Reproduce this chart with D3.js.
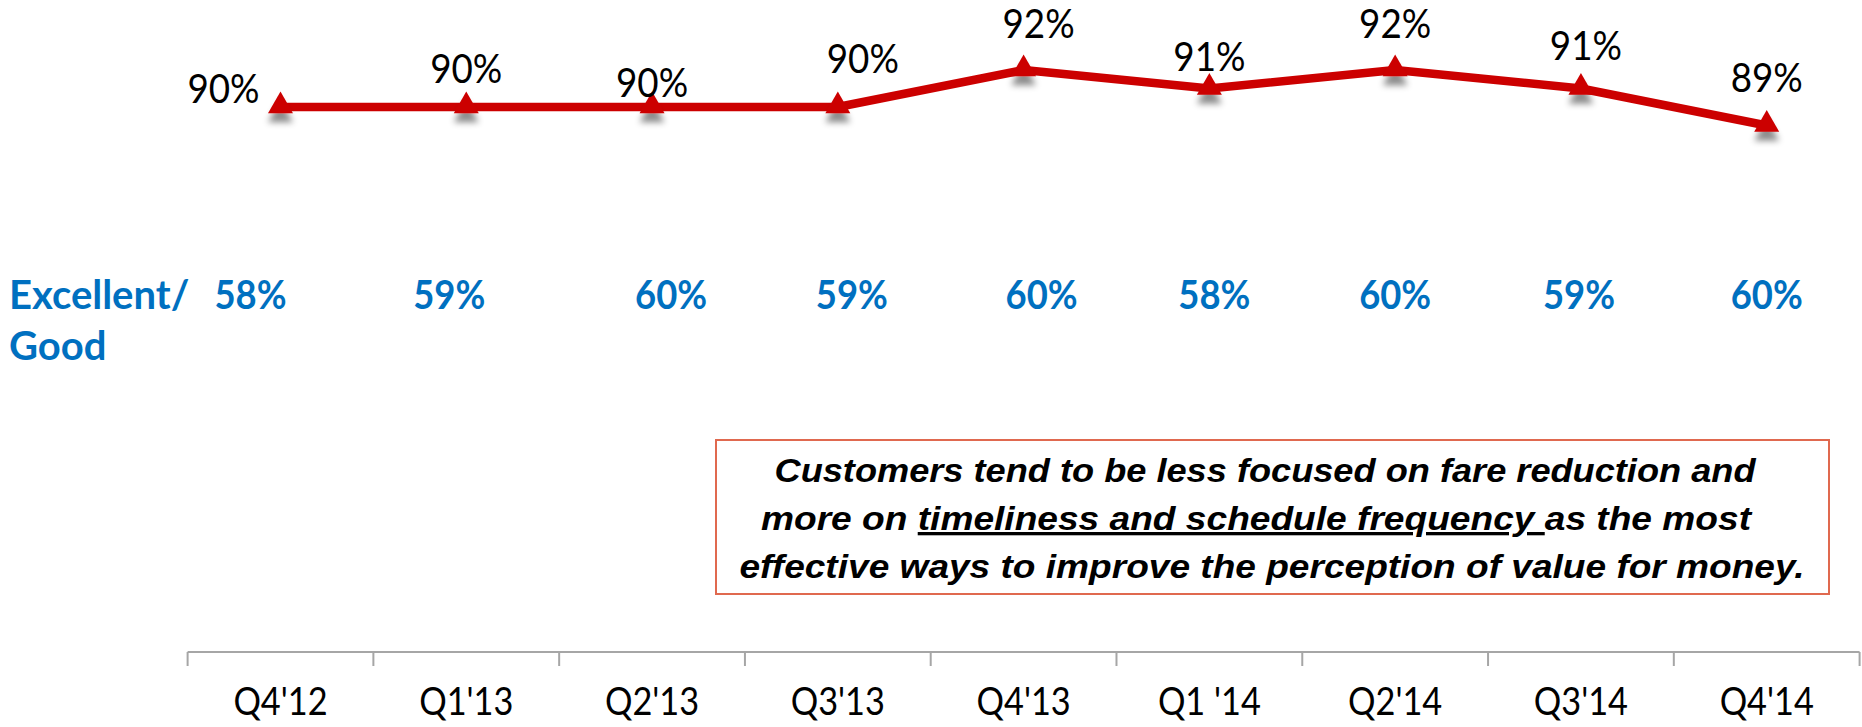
<!DOCTYPE html>
<html lang="en">
<head>
  <meta charset="UTF-8">
  <title>Value for money trend</title>
  <script src="https://d3js.org/d3.v7.min.js"></script>
  <style>
    body {
      margin: 0;
      background-color: #ffffff;
      overflow: hidden;
    }
    svg {
      display: block;
    }
    .lbl {
      font-family: Lato, 'Open Sans', Arial, sans-serif;
    }
  </style>
</head>
<body>
  <svg id="chart" width="1862" height="727"></svg>

  <script>
    // Data
    const quarters = ["Q4'12", "Q1'13", "Q2'13", "Q3'13", "Q4'13", "Q1 '14", "Q2'14", "Q3'14", "Q4'14"];
    const topScores = [90, 90, 90, 90, 92, 91, 92, 91, 89];
    const excellentGood = [58, 59, 60, 59, 60, 58, 60, 59, 60];

    // label nudges (layout only), in px from the point
    const topLabelNudge = [[-57, -18], [0, -38], [0, -24], [25, -48], [15, -46], [0, -32], [0, -46], [5, -43], [0, -48]];
    const blueNudge = [-30, -17, 19, 14, 18, 5, 0, -2, 0];

    const svg = d3.select("#chart");

    const x = d3.scaleBand()
      .domain(quarters)
      .range([187.6, 1859.6])
      .padding(0);

    const y = d3.scaleLinear()
      .domain([89, 92])
      .range([125.5, 70]);

    const cx = d => x(d) + x.bandwidth() / 2;
    // narrow the glyphs a bit so Lato looks closer to Calibri
    const place = (px, py, sx) => `translate(${px},${py}) scale(${sx},1)`;

    // shadow under markers
    const defs = svg.append("defs");
    const f = defs.append("filter")
      .attr("id", "shadow")
      .attr("x", "-50%").attr("y", "-50%")
      .attr("width", "200%").attr("height", "250%");
    f.append("feDropShadow")
      .attr("dx", 0).attr("dy", 9)
      .attr("stdDeviation", 3)
      .attr("flood-color", "#000")
      .attr("flood-opacity", 0.45);

    // axis
    const axisY = 652;
    const axis = svg.append("g");
    axis.append("line")
      .attr("x1", x.range()[0]).attr("x2", x.range()[1])
      .attr("y1", axisY).attr("y2", axisY)
      .attr("stroke", "#a6a6a6")
      .attr("stroke-width", 2);

    const bounds = quarters.map(q => x(q)).concat([x.range()[1]]);
    axis.selectAll(".tick")
      .data(bounds)
      .enter().append("line")
      .attr("x1", d => d).attr("x2", d => d)
      .attr("y1", axisY).attr("y2", axisY + 14)
      .attr("stroke", "#a6a6a6")
      .attr("stroke-width", 2);

    axis.selectAll(".qlabel")
      .data(quarters)
      .enter().append("text")
      .attr("class", "lbl")
      .attr("transform", d => place(cx(d), 715, 0.88))
      .attr("text-anchor", "middle")
      .style("font-size", "39px")
      .style("fill", "#000")
      .text(d => d);

    // line
    const pts = quarters.map((q, i) => ({ q: q, v: topScores[i], i: i }));

    svg.append("path")
      .datum(pts)
      .attr("fill", "none")
      .attr("stroke", "#cc0000")
      .attr("stroke-width", 8.5)
      .attr("stroke-linejoin", "round")
      .attr("d", d3.line().x(d => cx(d.q)).y(d => y(d.v)));

    svg.append("g")
      .selectAll("path")
      .data(pts)
      .enter().append("path")
      .attr("d", d3.symbol().type(d3.symbolTriangle).size(270))
      .attr("transform", d => `translate(${cx(d.q)},${y(d.v) - 1})`)
      .attr("fill", "#cc0000")
      .attr("filter", "url(#shadow)");

    svg.append("g")
      .selectAll("text")
      .data(pts)
      .enter().append("text")
      .attr("class", "lbl")
      .attr("transform", d => place(cx(d.q) + topLabelNudge[d.i][0], y(d.v) + topLabelNudge[d.i][1], 0.92))
      .attr("dy", "0.36em")
      .attr("text-anchor", "middle")
      .style("font-size", "40px")
      .style("fill", "#000")
      .text(d => d.v + "%");

    // Excellent / Good row
    const blue = "#0070c0";
    const side = svg.append("text")
      .attr("class", "lbl")
      .attr("transform", place(9, 0, 1))
      .style("font-size", "40px")
      .style("font-weight", "bold")
      .style("fill", blue);
    side.append("tspan").attr("x", 0).attr("y", 309).text("Excellent/");
    side.append("tspan").attr("x", 0).attr("y", 360).text("Good");

    svg.append("g")
      .selectAll("text")
      .data(excellentGood)
      .enter().append("text")
      .attr("class", "lbl")
      .attr("transform", (d, i) => place(cx(quarters[i]) + blueNudge[i], 309, 0.91))
      .attr("text-anchor", "middle")
      .style("font-size", "40px")
      .style("font-weight", "bold")
      .style("fill", blue)
      .text(d => d + "%");

    // callout box
    const box = svg.append("g");
    box.append("rect")
      .attr("x", 716).attr("y", 440)
      .attr("width", 1113).attr("height", 154)
      .attr("fill", "#fff")
      .attr("stroke", "#e0694f")
      .attr("stroke-width", 2);

    const noteFont = {
      "font-family": "'Liberation Sans', Arial, sans-serif",
      "font-size": "33px",
      "font-weight": "bold",
      "font-style": "italic"
    };

    const t1 = box.append("text")
      .attr("x", 1265).attr("y", 482)
      .attr("text-anchor", "middle")
      .attr("textLength", 981)
      .attr("lengthAdjust", "spacingAndGlyphs")
      .text("Customers tend to be less focused on fare reduction and");

    const t2 = box.append("text")
      .attr("x", 1256).attr("y", 530)
      .attr("text-anchor", "middle")
      .attr("textLength", 990)
      .attr("lengthAdjust", "spacingAndGlyphs");
    t2.append("tspan").text("more on ");
    t2.append("tspan").style("text-decoration", "underline").text("timeliness and schedule frequency ");
    t2.append("tspan").text("as the most");

    const t3 = box.append("text")
      .attr("x", 1272).attr("y", 578)
      .attr("text-anchor", "middle")
      .attr("textLength", 1065)
      .attr("lengthAdjust", "spacingAndGlyphs")
      .text("effective ways to improve the perception of value for money.");

    [t1, t2, t3].forEach(t => {
      Object.entries(noteFont).forEach(([k, v]) => t.style(k, v));
      t.style("fill", "#000");
    });
  </script>
</body>
</html>
